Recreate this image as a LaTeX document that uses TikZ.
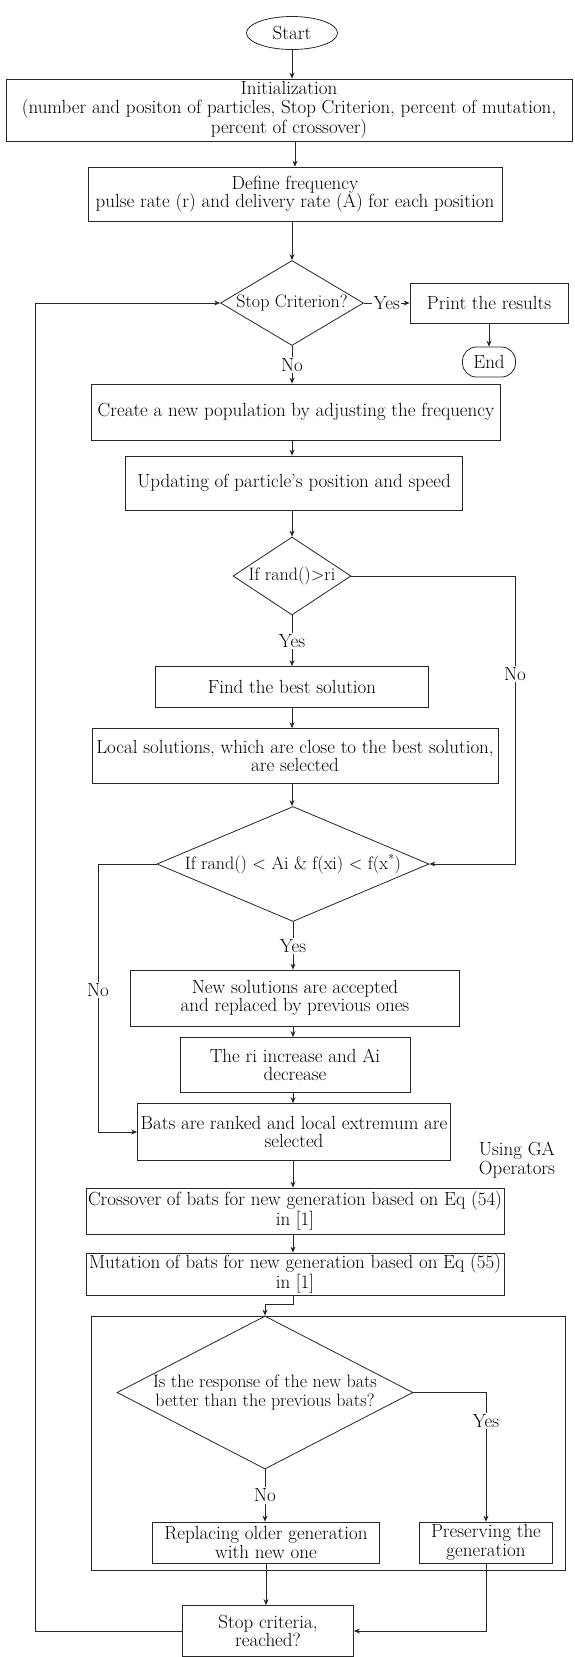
\documentclass[tikz,border=0pt]{standalone}
\usetikzlibrary{shapes.geometric,arrows.meta}
\begin{document}
\begin{tikzpicture}[x=1pt,y=-1pt,
  font=\fontsize{19}{18.5}\selectfont,
  line width=0.8pt,draw=black!85,
  box/.style={draw,rectangle,align=center,inner sep=1pt},
  test/.style={draw,diamond,align=center,inner xsep=-6pt,inner ysep=-4pt,font=\fontsize{18}{18.5}\selectfont},
  arr/.style={-{Stealth[length=6pt,width=5pt]}},
  lbl/.style={fill=white,inner sep=1.5pt}]
\useasboundingbox (0,0) rectangle (574,1657);
\node[draw,ellipse,minimum width=91pt,minimum height=33pt,inner sep=0pt] (start) at (292,33) {Start};
\node[box,minimum width=566pt,minimum height=62pt] (init) at (289,110) {Initialization\\(number and positon of particles, Stop Criterion, percent of mutation,\\percent of crossover)};
\node[box,minimum width=414pt,minimum height=54pt] (freq) at (295,194) {Define frequency\\pulse rate (r) and delivery rate (A) for each position};
\node[test,aspect=1.66,minimum width=143pt,minimum height=85pt] (stop) at (292,303) {Stop Criterion?};
\node[box,minimum width=158pt,minimum height=40pt] (print) at (489,303) {Print the results};
\node[draw,rounded corners=14pt,minimum width=53pt,minimum height=30pt,inner sep=0pt] (end) at (489,362) {End};
\node[box,minimum width=409pt,minimum height=56pt] (create) at (296,412) {Create a new population by adjusting the frequency};
\node[box,minimum width=337pt,minimum height=54pt] (update) at (294,483) {Updating of particle's position and speed};
\node[test,aspect=1.49,minimum width=118pt,minimum height=78pt] (rand) at (292,576) {If rand()>ri};
\node[box,minimum width=273pt,minimum height=41pt] (best) at (292,687) {Find the best solution};
\node[box,minimum width=406pt,minimum height=55pt] (local) at (295,756) {Local solutions, which are close to the best solution,\\are selected};
\node[test,aspect=2.37,minimum width=272pt,minimum height=115pt] (big) at (293,864) {If rand() < Ai \& f(xi) < f(x\textsuperscript{*})};
\node[box,minimum width=329pt,minimum height=56pt] (newsol) at (295,998) {New solutions are accepted\\and replaced by previous ones};
\node[box,minimum width=230pt,minimum height=55pt] (ri) at (295,1065) {The ri increase and Ai\\decrease};
\node[box,minimum width=313pt,minimum height=57pt] (bats) at (294,1132) {Bats are ranked and local extremum are\\selected};
\node[align=left,inner sep=0pt] (ga) at (517,1160) {Using GA\\Operators};
\node[box,minimum width=418pt,minimum height=46pt] (cross) at (295,1211) {Crossover of bats for new generation based on Eq (54)\\in [1]};
\node[box,minimum width=418pt,minimum height=42pt] (mut) at (295,1274) {Mutation of bats for new generation based on Eq (55)\\in [1]};
\node[draw,minimum width=474pt,minimum height=254pt] (frame) at (328,1443) {};
\node[test,aspect=1.93,minimum width=296pt,minimum height=153pt] (is) at (265,1392.5) {Is the response of the new bats\\better than the previous bats?};
\node[box,minimum width=227pt,minimum height=41pt] (repl) at (266,1542.5) {Replacing older generation\\with new one};
\node[box,minimum width=133pt,minimum height=41pt] (keep) at (486,1542.5) {Preserving the\\generation};
\node[box,minimum width=171pt,minimum height=51pt] (check) at (268,1631) {Stop criteria,\\reached?};
\coordinate (rj) at (515,576);
\coordinate (lj) at (98,864);
\coordinate (loop) at (35,1631);
\draw[arr] (start) -- (start |- init.north);
\draw[arr] (freq.north |- init.south) -- (freq.north);
\draw[arr] (stop.north |- freq.south) -- (stop.north);
\draw[arr] (stop) -- node[lbl]{Yes} (print);
\draw[arr] (print.south -| end) -- (end);
\draw[arr] (stop.south) -- node[lbl]{No} (stop.south |- create.north);
\draw[arr] (stop.south |- create.south) -- (stop.south |- update.north);
\draw[arr] (rand.north |- update.south) -- (rand.north);
\draw[arr] (rand) -- node[lbl]{Yes} (best);
\draw[arr] (rand.east) -- (rj) |- node[lbl,pos=0.17]{No} (big.east);
\draw[arr] (rand |- best.south) -- (rand |- local.north);
\draw[arr] (rand |- local.south) -- (rand |- big.north);
\draw[arr] (big) -- node[lbl]{Yes} (big.south |- newsol.north);
\draw[arr] (big.west) -- (lj) |- node[lbl,pos=0.235]{No} (bats.west);
\draw[arr] (big.south |- newsol.south) -- (big.south |- ri.north);
\draw[arr] (big.south |- ri.south) -- (big.south |- bats.north);
\draw[arr] (big.south |- bats.south) -- (big.south |- cross.north);
\draw[arr] (big.south |- cross.south) -- (big.south |- mut.north);
\draw[arr] (big.south |- mut.south) -- ++(0,9) -| (is.north);
\draw[arr] (is.east) -| node[lbl,pos=0.61]{Yes} (keep.north);
\draw[arr] (is) -- node[lbl]{No} (is.south |- repl.north);
\draw[arr] (repl.south) -- (repl.south |- check.north);
\draw[arr] (keep.south) |- (check.east);
\draw[arr] (check.west) -- (loop) |- (stop.west);
\end{tikzpicture}
\end{document}
